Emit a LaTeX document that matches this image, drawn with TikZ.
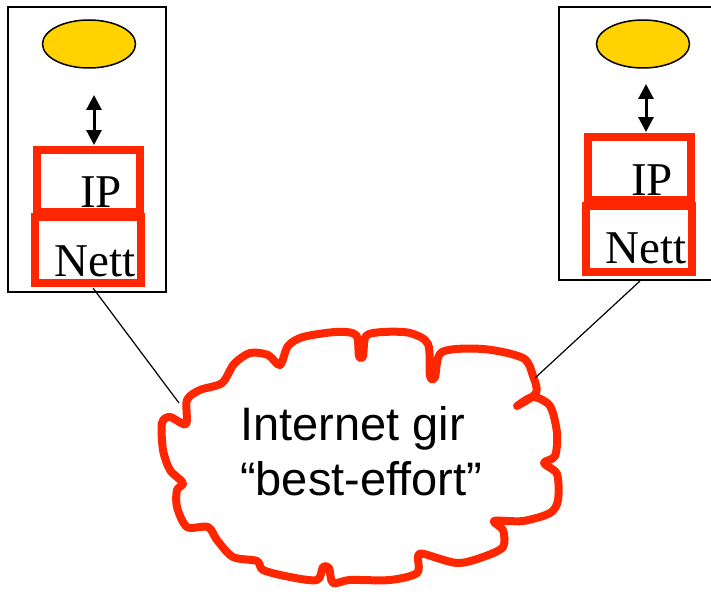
\documentclass[tikz,border=0pt]{standalone}
\usepackage{fontspec}
\setmainfont{Liberation Serif}
\newfontfamily\arialfont{Liberation Sans}
\usetikzlibrary{arrows.meta,shapes.geometric}
\definecolor{layerred}{HTML}{FF2600}
\definecolor{appyellow}{HTML}{FFD200}
\tikzset{
  hostbox/.style={draw=black, line width=1.5pt},
  app/.style={ellipse, draw=black, line width=1.5pt, fill=appyellow,
    minimum width=93pt, minimum height=48pt, inner sep=0pt},
  layerbox/.style={draw=layerred, line width=8pt},
  layertext/.style={font=\fontsize{47}{50}\selectfont, inner sep=0pt, anchor=base},
  updown/.style={line width=3pt, {Triangle[width=15pt,length=15pt]}-{Triangle[width=15pt,length=15pt]}},
  link/.style={draw=black, line width=1.2pt},
  cloudline/.style={draw=layerred, line width=8pt, line join=round, line cap=round}
}
\begin{document}
\begin{tikzpicture}[x=1pt,y=-1pt]
  \useasboundingbox (0,0) rectangle (711,591);

  % left host
  \draw[hostbox] (8,7) rectangle (166,292);
  \node[app] (appL) at (89,44) {};
  \coordinate (arrLtop) at (94,95);
  \coordinate (arrLbot) at (94,145);
  \draw[updown] (arrLtop) -- (arrLbot);
  \draw[layerbox] (37,150) rectangle (140,212);
  \draw[layerbox] (35,217) rectangle (141,283);
  \node[layertext] (ipL) at (101,207) {IP};
  \node[layertext] (nettL) at (95,276) {Nett};

  % right host (runs past the right border)
  \draw[hostbox] (730,7) -- (559,7) -- (559,280) -- (730,280);
  \node[app] (appR) at (643,44) {};
  \coordinate (arrRtop) at (646,84);
  \coordinate (arrRbot) at (646,132);
  \draw[updown] (arrRtop) -- (arrRbot);
  \draw[layerbox] (588,137) rectangle (691,200);
  \draw[layerbox] (586,206) rectangle (692,272);
  \node[layertext] (ipR) at (652,195) {IP};
  \node[layertext] (nettR) at (646,263) {Nett};

  % internet cloud
  \draw[cloudline] plot[smooth cycle, tension=0.5] coordinates {
    (222,383) (234,364) (250,353) (268,355) (280,365)
    (288,346) (303,337) (336,332) (356,335) (359,356) (363,356) (366,336)
    (383,332) (410,333) (428,344) (430,376) (435,377) (442,352)
    (483,349) (523,358) (533,376) (536,393) (517,406) (533,397)
    (550,406) (557,433) (555,456) (544,463) (557,474) (558,500)
    (550,513) (523,521) (494,521) (503,530) (503,547) (483,557)
    (457,563) (424,554) (418,556) (417,573) (390,580) (350,580) (333,583)
    (329,568) (323,567) (317,580) (290,577) (263,570) (257,561) (233,557)
    (217,540) (208,527) (187,527) (177,507) (177,490) (183,483)
    (170,470) (163,450) (162,423) (170,417) (186,424) (187,400)
    (200,390) };
  \node[inner sep=0pt, align=left, anchor=base west, font=\arialfont\fontsize{47}{55}\selectfont]
    (net) at (240,495) {Internet gir\\“best-effort”};

  % links from hosts to the cloud
  \coordinate (footL) at (93,288);
  \coordinate (footR) at (640,281);
  \coordinate (cloudL) at (179,403);
  \coordinate (cloudR) at (535,378);
  \draw[link] (footL) -- (cloudL);
  \draw[link] (footR) -- (cloudR);
\end{tikzpicture}
\end{document}
